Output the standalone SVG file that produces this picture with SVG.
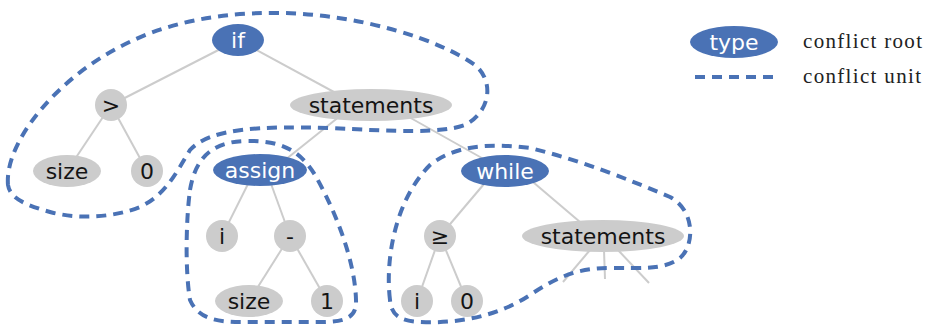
<svg xmlns="http://www.w3.org/2000/svg" width="928" height="325" viewBox="0 0 928 325">
<style>
.g{fill:#cccccc}
.r{fill:#4a72b5}
.t{font-family:"DejaVu Sans",sans-serif;font-size:22px;fill:#141414;text-anchor:middle;dominant-baseline:central}
.w{fill:#ffffff}
.e{stroke:#cccccc;stroke-width:2;fill:none}
.u{fill:none;stroke:#4a72b5;stroke-width:4;stroke-dasharray:10 7}
.l{font-family:"Liberation Serif",serif;font-size:21px;fill:#222}
</style>
<rect width="928" height="325" fill="#ffffff"/>
<g id="connectors">
<line class="e" x1="238" y1="40" x2="111" y2="105"/>
<line class="e" x1="238" y1="40" x2="345" y2="98"/>
<line class="e" x1="111" y1="105" x2="67" y2="171"/>
<line class="e" x1="111" y1="105" x2="147" y2="171"/>
<line class="e" x1="345" y1="112" x2="285" y2="160"/>
<line class="e" x1="400" y1="112" x2="505" y2="171"/>
<line class="e" x1="255" y1="170" x2="222" y2="236"/>
<line class="e" x1="266" y1="170" x2="290" y2="236"/>
<line class="e" x1="290" y1="236" x2="249" y2="301"/>
<line class="e" x1="290" y1="236" x2="327" y2="301"/>
<line class="e" x1="495" y1="171" x2="440" y2="236"/>
<line class="e" x1="520" y1="171" x2="580" y2="222"/>
<line class="e" x1="440" y1="236" x2="417" y2="301"/>
<line class="e" x1="440" y1="236" x2="467" y2="301"/>
<line class="e" x1="590" y1="250" x2="563" y2="282"/>
<line class="e" x1="604" y1="250" x2="605" y2="279"/>
<line class="e" x1="618" y1="250" x2="649" y2="283"/>
</g>
<g id="n_if"><ellipse class="r" cx="238" cy="40" rx="26" ry="16"/><text class="t w" x="238" y="40">if</text></g>
<g id="n_gt"><circle class="g" cx="111" cy="105" r="16"/><text class="t" x="111" y="105">&gt;</text></g>
<g id="n_stmts"><ellipse class="g" cx="371" cy="105" rx="81" ry="16"/><text class="t" x="371" y="105">statements</text></g>
<g id="n_size1"><ellipse class="g" cx="67" cy="171" rx="34" ry="16"/><text class="t" x="67" y="171">size</text></g>
<g id="n_zero1"><circle class="g" cx="147" cy="171" r="16"/><text class="t" x="147" y="171">0</text></g>
<g id="n_assign"><ellipse class="r" cx="260" cy="170" rx="47" ry="16"/><text class="t w" x="260" y="170">assign</text></g>
<g id="n_while"><ellipse class="r" cx="505" cy="171" rx="44" ry="16"/><text class="t w" x="505" y="171">while</text></g>
<g id="n_i1"><circle class="g" cx="222" cy="236" r="16"/><text class="t" x="222" y="236">i</text></g>
<g id="n_minus"><circle class="g" cx="290" cy="236" r="16"/><text class="t" x="290" y="236">-</text></g>
<g id="n_size2"><ellipse class="g" cx="249" cy="301" rx="34" ry="16"/><text class="t" x="249" y="301">size</text></g>
<g id="n_one"><circle class="g" cx="327" cy="301" r="16"/><text class="t" x="327" y="301">1</text></g>
<g id="n_ge"><circle class="g" cx="440" cy="236" r="16"/><text class="t" x="440" y="236">≥</text></g>
<g id="n_stmts2"><ellipse class="g" cx="603" cy="236" rx="81" ry="16"/><text class="t" x="603" y="236">statements</text></g>
<g id="n_i2"><circle class="g" cx="417" cy="301" r="16"/><text class="t" x="417" y="301">i</text></g>
<g id="n_zero2"><circle class="g" cx="467" cy="301" r="16"/><text class="t" x="467" y="301">0</text></g>
<g id="units">
<path class="u" d="M 8,185 C 5,150 40,100 90,65 C 140,30 200,12 280,13 C 360,14 440,40 475,65 C 495,82 490,112 465,125 C 440,134 390,131 330,128 C 260,126 210,128 190,150 C 175,175 165,195 140,207 C 115,217 80,220 50,212 C 25,205 10,198 8,185 Z"/>
<path class="u" d="M 190,190 C 195,160 210,142 245,141 C 280,140 300,150 315,175 C 335,210 355,260 356,300 C 357,318 345,322 320,322 L 240,322 C 215,322 198,318 190,300 C 185,270 186,220 190,190 Z"/>
<path class="u" d="M 390,300 C 385,260 395,200 430,165 C 455,145 490,143 530,148 C 580,160 630,180 670,197 C 695,210 695,245 680,258 C 665,270 640,268 610,268 C 580,268 560,275 530,295 C 500,315 460,324 420,322 C 400,321 391,315 390,300 Z"/>
</g>
<g id="legend">
<ellipse class="r" cx="734" cy="42" rx="44" ry="16"/><text class="t w" x="734" y="42">type</text>
<line class="u" x1="695" y1="77" x2="775" y2="77"/>
<text class="l" x="803" y="48" textLength="119" lengthAdjust="spacing">conflict root</text>
<text class="l" x="803" y="83" textLength="118" lengthAdjust="spacing">conflict unit</text>
</g>
</svg>
